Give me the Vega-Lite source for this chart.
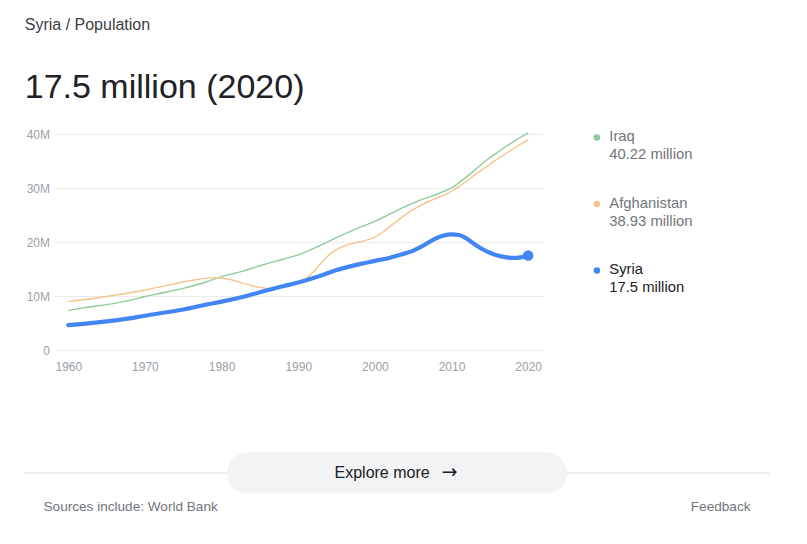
{
  "$schema": "https://vega.github.io/schema/vega-lite/v6.json",
  "background": "white",
  "padding": {"left": 23.5, "top": 17, "right": 10, "bottom": 10},
  "title": {
    "text": "Syria / Population",
    "subtitle": "17.5 million (2020)",
    "anchor": "start",
    "font": "Liberation Sans",
    "fontSize": 16,
    "fontWeight": "normal",
    "color": "#3c4043",
    "subtitleFont": "Liberation Sans",
    "subtitleFontSize": 34,
    "subtitleColor": "#202124",
    "subtitlePadding": 38,
    "offset": 23,
    "dx": 1
  },
  "spacing": 80,
  "vconcat": [
    {
      "width": 489,
      "height": 216,
      "data": {"values": [
        {"country": "Iraq", "year": 1960, "pop": 7.3},
        {"country": "Iraq", "year": 1962, "pop": 7.8},
        {"country": "Iraq", "year": 1965, "pop": 8.4},
        {"country": "Iraq", "year": 1968, "pop": 9.2},
        {"country": "Iraq", "year": 1970, "pop": 9.9},
        {"country": "Iraq", "year": 1972, "pop": 10.5},
        {"country": "Iraq", "year": 1975, "pop": 11.4},
        {"country": "Iraq", "year": 1978, "pop": 12.6},
        {"country": "Iraq", "year": 1980, "pop": 13.6},
        {"country": "Iraq", "year": 1983, "pop": 14.7},
        {"country": "Iraq", "year": 1985, "pop": 15.6},
        {"country": "Iraq", "year": 1988, "pop": 16.8},
        {"country": "Iraq", "year": 1990, "pop": 17.6},
        {"country": "Iraq", "year": 1992, "pop": 18.8},
        {"country": "Iraq", "year": 1995, "pop": 20.8},
        {"country": "Iraq", "year": 1998, "pop": 22.7},
        {"country": "Iraq", "year": 2000, "pop": 23.8},
        {"country": "Iraq", "year": 2002, "pop": 25.2},
        {"country": "Iraq", "year": 2004, "pop": 26.6},
        {"country": "Iraq", "year": 2005, "pop": 27.2},
        {"country": "Iraq", "year": 2006, "pop": 27.8},
        {"country": "Iraq", "year": 2007, "pop": 28.3},
        {"country": "Iraq", "year": 2008, "pop": 28.8},
        {"country": "Iraq", "year": 2009, "pop": 29.4},
        {"country": "Iraq", "year": 2010, "pop": 30.0},
        {"country": "Iraq", "year": 2011, "pop": 31.0},
        {"country": "Iraq", "year": 2012, "pop": 32.1},
        {"country": "Iraq", "year": 2013, "pop": 33.3},
        {"country": "Iraq", "year": 2014, "pop": 34.5},
        {"country": "Iraq", "year": 2015, "pop": 35.6},
        {"country": "Iraq", "year": 2016, "pop": 36.6},
        {"country": "Iraq", "year": 2017, "pop": 37.6},
        {"country": "Iraq", "year": 2018, "pop": 38.5},
        {"country": "Iraq", "year": 2019, "pop": 39.4},
        {"country": "Iraq", "year": 2020, "pop": 40.22},
        {"country": "Afghanistan", "year": 1960, "pop": 9.0},
        {"country": "Afghanistan", "year": 1962, "pop": 9.3},
        {"country": "Afghanistan", "year": 1965, "pop": 9.9},
        {"country": "Afghanistan", "year": 1968, "pop": 10.6},
        {"country": "Afghanistan", "year": 1970, "pop": 11.1},
        {"country": "Afghanistan", "year": 1972, "pop": 11.7},
        {"country": "Afghanistan", "year": 1975, "pop": 12.6},
        {"country": "Afghanistan", "year": 1977, "pop": 13.1},
        {"country": "Afghanistan", "year": 1979, "pop": 13.4},
        {"country": "Afghanistan", "year": 1980, "pop": 13.3},
        {"country": "Afghanistan", "year": 1981, "pop": 13.1},
        {"country": "Afghanistan", "year": 1982, "pop": 12.7},
        {"country": "Afghanistan", "year": 1983, "pop": 12.3},
        {"country": "Afghanistan", "year": 1984, "pop": 11.9},
        {"country": "Afghanistan", "year": 1985, "pop": 11.6},
        {"country": "Afghanistan", "year": 1986, "pop": 11.4},
        {"country": "Afghanistan", "year": 1987, "pop": 11.5},
        {"country": "Afghanistan", "year": 1988, "pop": 11.75},
        {"country": "Afghanistan", "year": 1989, "pop": 12.05},
        {"country": "Afghanistan", "year": 1990, "pop": 12.5},
        {"country": "Afghanistan", "year": 1991, "pop": 13.2},
        {"country": "Afghanistan", "year": 1992, "pop": 14.5},
        {"country": "Afghanistan", "year": 1993, "pop": 16.1},
        {"country": "Afghanistan", "year": 1994, "pop": 17.6},
        {"country": "Afghanistan", "year": 1995, "pop": 18.6},
        {"country": "Afghanistan", "year": 1996, "pop": 19.3},
        {"country": "Afghanistan", "year": 1997, "pop": 19.7},
        {"country": "Afghanistan", "year": 1998, "pop": 20.0},
        {"country": "Afghanistan", "year": 1999, "pop": 20.4},
        {"country": "Afghanistan", "year": 2000, "pop": 20.9},
        {"country": "Afghanistan", "year": 2001, "pop": 21.8},
        {"country": "Afghanistan", "year": 2002, "pop": 22.9},
        {"country": "Afghanistan", "year": 2003, "pop": 24.0},
        {"country": "Afghanistan", "year": 2004, "pop": 25.1},
        {"country": "Afghanistan", "year": 2005, "pop": 26.0},
        {"country": "Afghanistan", "year": 2006, "pop": 26.8},
        {"country": "Afghanistan", "year": 2007, "pop": 27.5},
        {"country": "Afghanistan", "year": 2008, "pop": 28.1},
        {"country": "Afghanistan", "year": 2009, "pop": 28.7},
        {"country": "Afghanistan", "year": 2010, "pop": 29.4},
        {"country": "Afghanistan", "year": 2011, "pop": 30.3},
        {"country": "Afghanistan", "year": 2012, "pop": 31.3},
        {"country": "Afghanistan", "year": 2013, "pop": 32.4},
        {"country": "Afghanistan", "year": 2014, "pop": 33.4},
        {"country": "Afghanistan", "year": 2015, "pop": 34.4},
        {"country": "Afghanistan", "year": 2016, "pop": 35.4},
        {"country": "Afghanistan", "year": 2017, "pop": 36.3},
        {"country": "Afghanistan", "year": 2018, "pop": 37.2},
        {"country": "Afghanistan", "year": 2019, "pop": 38.1},
        {"country": "Afghanistan", "year": 2020, "pop": 38.93},
        {"country": "Syria", "year": 1960, "pop": 4.6},
        {"country": "Syria", "year": 1962, "pop": 4.85},
        {"country": "Syria", "year": 1965, "pop": 5.3},
        {"country": "Syria", "year": 1968, "pop": 5.85},
        {"country": "Syria", "year": 1970, "pop": 6.35},
        {"country": "Syria", "year": 1972, "pop": 6.8},
        {"country": "Syria", "year": 1975, "pop": 7.5},
        {"country": "Syria", "year": 1978, "pop": 8.4},
        {"country": "Syria", "year": 1980, "pop": 8.95},
        {"country": "Syria", "year": 1983, "pop": 9.9},
        {"country": "Syria", "year": 1985, "pop": 10.7},
        {"country": "Syria", "year": 1988, "pop": 11.8},
        {"country": "Syria", "year": 1990, "pop": 12.5},
        {"country": "Syria", "year": 1993, "pop": 13.8},
        {"country": "Syria", "year": 1995, "pop": 14.8},
        {"country": "Syria", "year": 1998, "pop": 15.9},
        {"country": "Syria", "year": 2000, "pop": 16.5},
        {"country": "Syria", "year": 2002, "pop": 17.1},
        {"country": "Syria", "year": 2003, "pop": 17.5},
        {"country": "Syria", "year": 2004, "pop": 17.9},
        {"country": "Syria", "year": 2005, "pop": 18.4},
        {"country": "Syria", "year": 2006, "pop": 19.1},
        {"country": "Syria", "year": 2007, "pop": 19.9},
        {"country": "Syria", "year": 2008, "pop": 20.7},
        {"country": "Syria", "year": 2009, "pop": 21.2},
        {"country": "Syria", "year": 2010, "pop": 21.4},
        {"country": "Syria", "year": 2011, "pop": 21.3},
        {"country": "Syria", "year": 2012, "pop": 20.6},
        {"country": "Syria", "year": 2013, "pop": 19.6},
        {"country": "Syria", "year": 2014, "pop": 18.7},
        {"country": "Syria", "year": 2015, "pop": 18.0},
        {"country": "Syria", "year": 2016, "pop": 17.5},
        {"country": "Syria", "year": 2017, "pop": 17.2},
        {"country": "Syria", "year": 2018, "pop": 17.05},
        {"country": "Syria", "year": 2019, "pop": 17.15},
        {"country": "Syria", "year": 2020, "pop": 17.5}
      ]},
      "encoding": {
        "x": {
          "field": "year", "type": "quantitative",
          "scale": {"domain": [1958.2, 2022], "nice": false, "zero": false},
          "axis": {"values": [1960, 1970, 1980, 1990, 2000, 2010, 2020], "format": "d", "grid": false, "domain": false, "ticks": false, "labelFlush": false, "labelColor": "#9aa0a6", "labelFontSize": 12, "labelPadding": 11, "title": null}
        },
        "y": {
          "field": "pop", "type": "quantitative",
          "scale": {"domain": [0, 40], "nice": false},
          "axis": {"values": [0, 10, 20, 30, 40], "labelExpr": "datum.value == 0 ? '0' : datum.value + 'M'", "grid": true, "gridColor": "#ebebeb", "gridWidth": 1, "domain": false, "ticks": false, "labelColor": "#9aa0a6", "labelFontSize": 12, "labelPadding": 5, "title": null}
        }
      },
      "layer": [
        {
          "transform": [{"filter": "datum.country == 'Iraq'"}],
          "mark": {"type": "line", "strokeWidth": 1.4, "interpolate": "monotone", "color": "#8fcb98"}
        },
        {
          "transform": [{"filter": "datum.country == 'Afghanistan'"}],
          "mark": {"type": "line", "strokeWidth": 1.4, "interpolate": "monotone", "color": "#f5c48c"}
        },
        {
          "transform": [{"filter": "datum.country == 'Syria'"}],
          "mark": {"type": "line", "strokeWidth": 4.2, "interpolate": "monotone", "strokeCap": "round", "color": "#4285f4"}
        },
        {
          "transform": [{"filter": "datum.country == 'Syria' && datum.year == 2020"}],
          "mark": {"type": "point", "filled": true, "size": 110, "opacity": 1, "strokeWidth": 0},
          "encoding": {
            "fill": {
              "field": "country", "type": "nominal",
              "scale": {"domain": ["Iraq", "Afghanistan", "Syria"], "range": ["#8fcb98", "#f5c48c", "#4285f4"]},
              "legend": {
                "orient": "none", "legendX": 535, "legendY": -4, "padding": 0,
                "title": null, "symbolType": "circle", "symbolSize": 42, "symbolStrokeWidth": 0, "symbolOpacity": 1,
                "labelFont": "Liberation Sans", "labelFontSize": 14.8, "labelColor": "#70757a", "labelLimit": 0, "labelOffset": 5,
                "labelBaseline": "top", "rowPadding": 32.5,
                "labelExpr": "datum.label == 'Iraq' ? ['Iraq', '40.22 million'] : datum.label == 'Afghanistan' ? ['Afghanistan', '38.93 million'] : ['Syria', '17.5 million']",
                "encode": {"labels": {"update": {"fill": {"signal": "datum.value == 'Syria' ? '#202124' : '#70757a'"}, "lineHeight": {"value": 18}, "dy": {"value": -8}}}}
              }
            }
          }
        }
      ]
    },
    {
      "width": 685,
      "height": 33.5,
      "data": {"values": [
        {"item": "Sources include: World Bank", "row": "meta"},
        {"item": "Explore more", "row": "button"},
        {"item": "Feedback", "row": "meta"}
      ]},
      "encoding": {
        "x": {"field": "item", "type": "nominal", "scale": {"type": "point", "domain": ["Sources include: World Bank", "Explore more", "Feedback"], "padding": 0}, "axis": null},
        "y": {"field": "row", "type": "nominal", "scale": {"type": "point", "domain": ["button", "meta"], "padding": 0}, "axis": null}
      },
      "layer": [
        {
          "transform": [{"filter": "datum.row == 'button'"}],
          "mark": {"type": "rule", "color": "#e8eaed", "strokeWidth": 1.5, "xOffset": -30, "x2Offset": 30},
          "encoding": {
            "x": {"datum": "Sources include: World Bank", "type": "nominal"},
            "x2": {"datum": "Feedback"}
          }
        },
        {
          "transform": [{"filter": "datum.row == 'button'"}],
          "mark": {"type": "bar", "width": 340, "height": 41, "cornerRadius": 20.5, "color": "#f1f3f4"}
        },
        {
          "transform": [{"filter": "datum.row == 'button'"}],
          "mark": {"type": "text", "align": "left", "baseline": "middle", "dx": -62.5, "fontSize": 16, "color": "#202124", "font": "Liberation Sans"},
          "encoding": {"text": {"field": "item"}}
        },
        {
          "transform": [{"filter": "datum.row == 'button'"}],
          "mark": {"type": "text", "text": "→", "align": "left", "baseline": "middle", "dx": 44.5, "dy": -1, "fontSize": 19, "color": "#202124", "font": "DejaVu Sans"}
        },
        {
          "transform": [{"filter": "datum.item == 'Sources include: World Bank'"}],
          "mark": {"type": "text", "align": "left", "baseline": "middle", "dx": -11, "fontSize": 13.6, "color": "#70757a", "font": "Liberation Sans"},
          "encoding": {"text": {"field": "item"}}
        },
        {
          "transform": [{"filter": "datum.item == 'Feedback'"}],
          "mark": {"type": "text", "align": "right", "baseline": "middle", "dx": 11, "fontSize": 13.6, "color": "#70757a", "font": "Liberation Sans"},
          "encoding": {"text": {"field": "item"}}
        }
      ]
    }
  ],
  "config": {
    "view": {"stroke": null},
    "font": "Liberation Sans",
    "axis": {"labelFont": "Liberation Sans"}
  }
}
